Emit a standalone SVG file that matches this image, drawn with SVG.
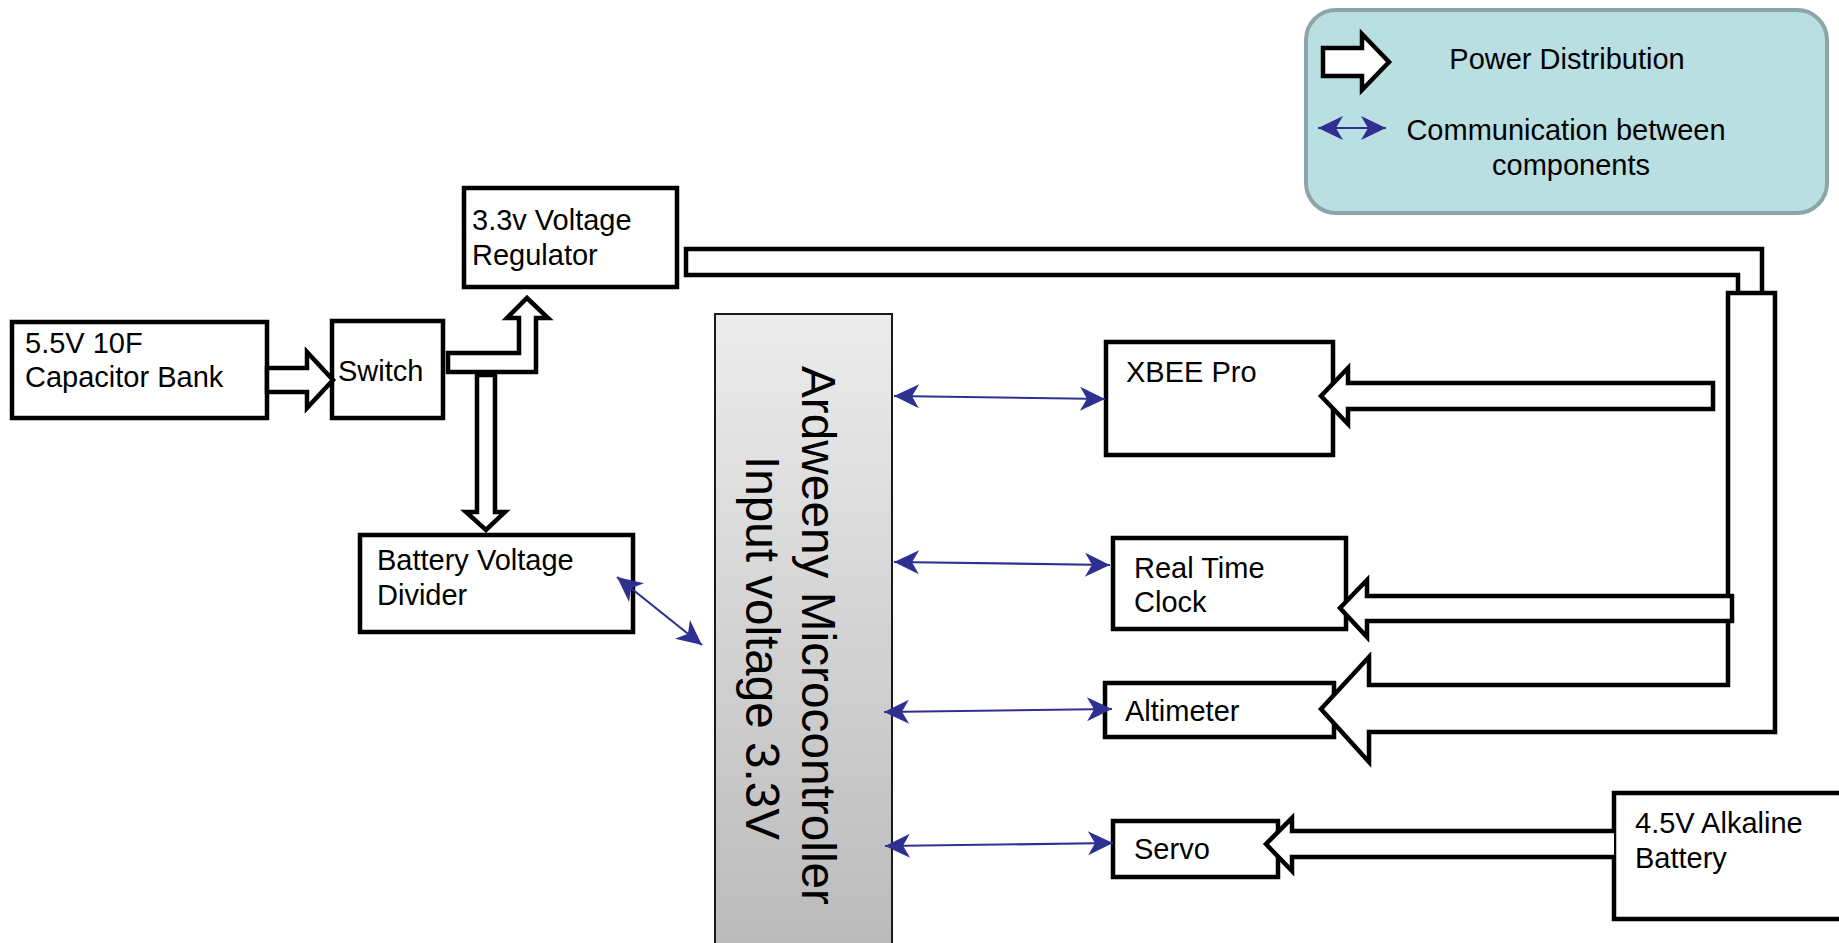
<svg xmlns="http://www.w3.org/2000/svg" width="1839" height="943" viewBox="0 0 1839 943">
<style>
text{font-family:"Liberation Sans",Arial,sans-serif;font-size:29px;fill:#000}
text.big{font-size:48px}
.box{fill:#fff;stroke:#000;stroke-width:4.5}
.pw{fill:#fff;stroke:#000;stroke-width:4.5;stroke-linejoin:miter}
.line{fill:none;stroke:#000;stroke-width:4.5;stroke-linejoin:miter}
.com{fill:none;stroke:#2e3192;stroke-width:2.2;marker-start:url(#ah);marker-end:url(#ah)}
</style>
<defs>
<marker id="ah" viewBox="-26 -13 28 26" refX="0" refY="0" markerWidth="28" markerHeight="26" markerUnits="userSpaceOnUse" orient="auto-start-reverse">
<path d="M0,0 L-25,-12 L-18,0 L-25,12 Z" fill="#2e3192"/>
</marker>
<linearGradient id="mcu" x1="0" y1="0" x2="0" y2="1">
<stop offset="0" stop-color="#ececec"/>
<stop offset="1" stop-color="#bababa"/>
</linearGradient>
</defs>

<g id="legend">
<rect x="1306" y="10" width="521" height="203" rx="30" ry="30" fill="#b9dfe2" stroke="#8ca5a6" stroke-width="4"/>
<path class="pw" d="M1323,48 H1362 V34 L1389,62 L1362,90 V76 H1323 Z" stroke-width="5"/>
<text x="1567" y="69" text-anchor="middle">Power Distribution</text>
<line class="com" x1="1318" y1="128" x2="1386" y2="128"/>
<text x="1566" y="140" text-anchor="middle">Communication between</text>
<text x="1571" y="175" text-anchor="middle">components</text>
</g>

<g id="capacitor">
<rect class="box" x="12" y="322" width="255" height="96"/>
<text x="25" y="353">5.5V 10F</text>
<text x="25" y="387">Capacitor Bank</text>
</g>

<g id="switch">
<rect class="box" x="332" y="321" width="111" height="97" stroke-width="3.5"/>
<text x="338" y="381">Switch</text>
</g>

<g id="regulator">
<rect class="box" x="464" y="188" width="213" height="99"/>
<text x="472" y="230">3.3v Voltage</text>
<text x="472" y="265">Regulator</text>
</g>

<g id="divider">
<rect class="box" x="360" y="535" width="273" height="97"/>
<text x="377" y="570">Battery Voltage</text>
<text x="377" y="605">Divider</text>
</g>

<g id="mcu">
<rect x="715" y="314" width="177" height="640" fill="url(#mcu)" stroke="#1a1a1a" stroke-width="2"/>
<text class="big" transform="translate(802,366) rotate(90)" textLength="539" lengthAdjust="spacingAndGlyphs">Ardweeny Microcontroller</text>
<text class="big" transform="translate(746,456) rotate(90)" textLength="384" lengthAdjust="spacingAndGlyphs">Input voltage 3.3V</text>
</g>

<g id="xbee">
<rect class="box" x="1106" y="342" width="227" height="113"/>
<text x="1126" y="382">XBEE Pro</text>
</g>

<g id="rtc">
<rect class="box" x="1113" y="538" width="233" height="91"/>
<text x="1134" y="578">Real Time</text>
<text x="1134" y="612">Clock</text>
</g>

<g id="altimeter">
<rect class="box" x="1105" y="683" width="229" height="54"/>
<text x="1125" y="721">Altimeter</text>
</g>

<g id="servo">
<rect class="box" x="1113" y="821" width="165" height="56"/>
<text x="1134" y="859">Servo</text>
</g>

<g id="battery">
<rect class="box" x="1614" y="793" width="240" height="126"/>
<text x="1635" y="833">4.5V Alkaline</text>
<text x="1635" y="868">Battery</text>
</g>

<g id="connectors">
<!-- power distribution -->
<path class="pw" d="M267,368 H307 V352 L333,380 L307,408 V392 H267 Z"/>
<path class="pw" d="M448,353 H519 V318 H507 L527,298 L548,318 H536 V372 H448 Z"/>
<path class="pw" d="M477,375 H495 V512 H505 L486,530 L466,512 H477 Z"/>
<path class="line" d="M1738,293 V275 H686 V249 H1762 V293"/>
<path class="pw" d="M1321,709 L1369,657 V685 H1728 V293 H1775 V732 H1369 V762 Z"/>
<path class="pw" d="M1713,383 V409 H1348 V424 L1321,396 L1348,368 V383 Z"/>
<path class="pw" d="M1732,596 V621 H1367 V637 L1340,608 L1367,580 V596 Z"/>
<path class="pw" d="M1614,831 H1292 V818 L1266,844 L1292,871 V857 H1614"/>
<!-- communication -->
<line class="com" x1="617" y1="577" x2="702" y2="645"/>
<line class="com" x1="894" y1="396" x2="1105" y2="399"/>
<line class="com" x1="894" y1="562" x2="1110" y2="565"/>
<line class="com" x1="884" y1="712" x2="1112" y2="709"/>
<line class="com" x1="885" y1="846" x2="1113" y2="843"/>
</g>
</svg>
